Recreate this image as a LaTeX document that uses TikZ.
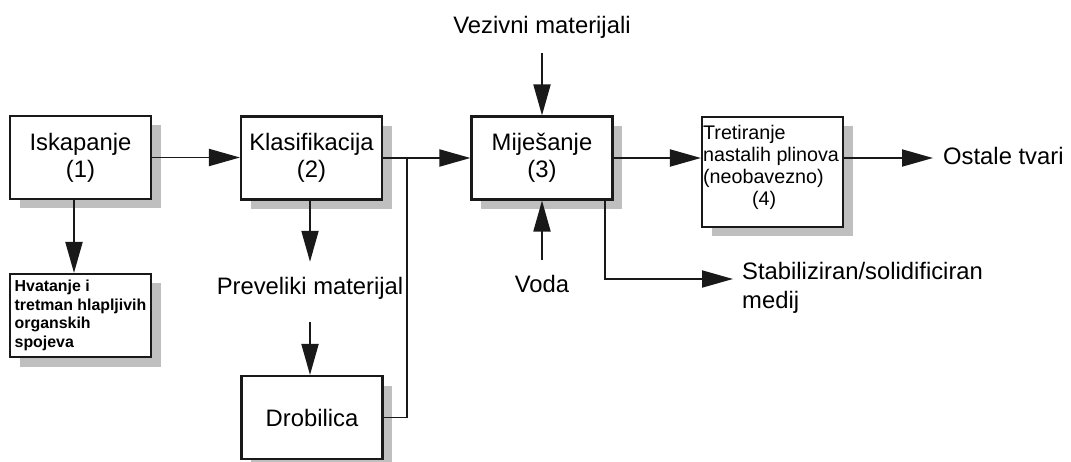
\documentclass[tikz,border=0pt]{standalone}
\usepackage{fontspec}
\setmainfont{Liberation Sans}
\usetikzlibrary{arrows.meta,shadows}
\newcommand\mainsz{\fontsize{23.8pt}{27pt}\selectfont}
\newcommand\midsz{\fontsize{19.7pt}{22pt}\selectfont}
\newcommand\smallbold{\fontsize{15.9pt}{18.7pt}\selectfont\bfseries}
\begin{document}
\begin{tikzpicture}[x=1pt,y=1pt,
  box/.style={draw=black!90, line width=2.1pt, fill=white, minimum width=141pt,
    minimum height=83pt, inner sep=0pt, align=center, font=\mainsz,
    general shadow={fill=black!25, shadow xshift=9.5pt, shadow yshift=-9.5pt}},
  lbl/.style={font=\mainsz, inner xsep=0pt, text height=17pt, text depth=5pt},
  ln/.style={line width=1.9pt, draw=black!90},
  arr/.style={ln, -{Triangle[length=31pt,width=17pt]}}]
\useasboundingbox (0,0) rectangle (1071,-462);
% boxes
\node[box] (b1) at (80.5,-157.5) {Iskapanje\\(1)};
\node[box] (b2) at (311.5,-158) {Klasifikacija\\(2)};
\node[box] (b3) at (542,-158) {Miješanje\\(3)};
\node[box, minimum height=110pt] (b4) at (772.5,-172) {};
\node[anchor=north west, inner sep=0pt, align=left, font=\midsz] (t4)
  at ([xshift=2pt,yshift=-9pt]b4.north west)
  {Tretiranje\\nastalih plinova\\(neobavezno)\\\hspace*{49pt}(4)};
\node[box, align=left, font=\smallbold] (b5) at (80.5,-315.5)
  {Hvatanje i\\tretman hlapljivih\\organskih\\spojeva};
\node[box] (b6) at (312,-417.5) {Drobilica};
% labels
\node[lbl, inner ysep=16pt] (pm) at (310,-289) {Preveliki materijal};
\node[lbl, inner ysep=14pt] (vm) at (542,-28) {Vezivni materijali};
\node[lbl, inner ysep=16pt] (vo) at (542,-287) {Voda};
\node[anchor=west, font=\fontsize{23.8pt}{29pt}\selectfont, align=left,
  inner xsep=9pt, inner ysep=0pt] (st) at (733,-287.5)
  {Stabiliziran/solidificiran\\medij};
\node[lbl, anchor=west, inner xsep=10pt] (ot) at (933,-159) {Ostale tvari};
\coordinate (j) at (407,-158);
% connectors
\draw[arr] (b1.east) -- (b1.east -| b2.west);
\draw[ln] (b2.east) -- (j);
\draw[arr] (j) -- (b3.west);
\draw[ln] (b6.east) -| (j);
\draw[arr] ([xshift=-6.5pt]b1.south) -- ([xshift=-6.5pt]b5.north);
\draw[arr] (b2.south -| pm) -- (pm.north);
\draw[arr] ([yshift=-6pt]pm.south) -- (b6.north -| pm);
\draw[arr] (vm.south) -- (b3.north);
\draw[arr] (vo.north) -- (b3.south -| vo);
\draw[arr] ([xshift=-9pt]b3.south east) |- ([yshift=8.5pt]st.west);
\draw[arr] (b3.east) -- (b3.east -| b4.west);
\draw[arr] (b3.east -| b4.east) -- (b3.east -| ot.west);
\end{tikzpicture}
\end{document}
